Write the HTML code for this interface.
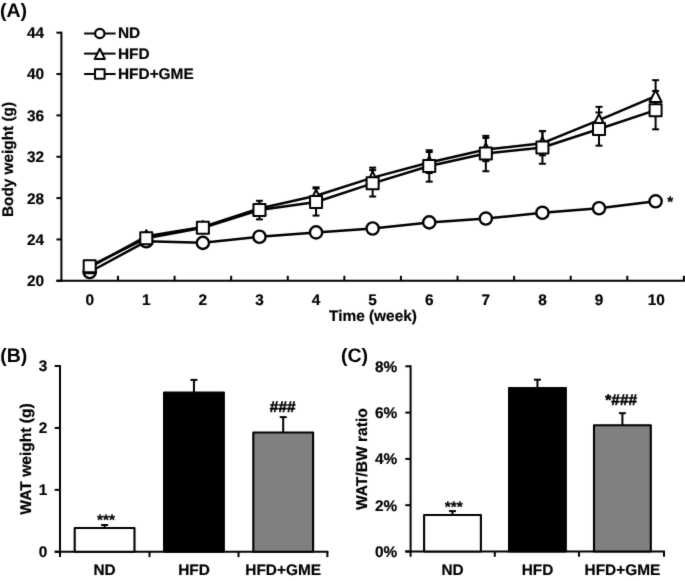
<!DOCTYPE html>
<html><head><meta charset="utf-8"><style>
html,body{margin:0;padding:0;background:#fff;width:685px;height:581px;overflow:hidden}
svg{display:block}
#w{width:685px;height:581px;will-change:transform}
text{-webkit-font-smoothing:antialiased;text-rendering:geometricPrecision}
</style></head><body><div id="w">
<svg width="685" height="581" viewBox="0 0 685 581">
<defs><filter id="bl" x="0" y="0" width="685" height="581" filterUnits="userSpaceOnUse" color-interpolation-filters="sRGB"><feConvolveMatrix order="3" kernelMatrix="0.0100 0.0800 0.0100 0.0800 0.6400 0.0800 0.0100 0.0800 0.0100" divisor="1" edgeMode="duplicate"/></filter></defs>
<rect width="685" height="581" fill="#fff"/>
<g filter="url(#bl)"><rect width="685" height="581" fill="#fff"/>
<g stroke="#000" stroke-width="2" fill="none">
<line x1="61.4" y1="31.70" x2="61.4" y2="281.80"/>
<line x1="56.40" y1="280.80" x2="61.4" y2="280.80"/>
<line x1="56.40" y1="239.45" x2="61.4" y2="239.45"/>
<line x1="56.40" y1="198.10" x2="61.4" y2="198.10"/>
<line x1="56.40" y1="156.75" x2="61.4" y2="156.75"/>
<line x1="56.40" y1="115.40" x2="61.4" y2="115.40"/>
<line x1="56.40" y1="74.05" x2="61.4" y2="74.05"/>
<line x1="56.40" y1="32.70" x2="61.4" y2="32.70"/>
<line x1="56.40" y1="280.8" x2="684.89" y2="280.8"/>
<line x1="117.99" y1="275.8" x2="117.99" y2="280.8"/>
<line x1="174.58" y1="275.8" x2="174.58" y2="280.8"/>
<line x1="231.17" y1="275.8" x2="231.17" y2="280.8"/>
<line x1="287.76" y1="275.8" x2="287.76" y2="280.8"/>
<line x1="344.35" y1="275.8" x2="344.35" y2="280.8"/>
<line x1="400.94" y1="275.8" x2="400.94" y2="280.8"/>
<line x1="457.53" y1="275.8" x2="457.53" y2="280.8"/>
<line x1="514.12" y1="275.8" x2="514.12" y2="280.8"/>
<line x1="570.71" y1="275.8" x2="570.71" y2="280.8"/>
<line x1="627.30" y1="275.8" x2="627.30" y2="280.8"/>
<line x1="683.89" y1="275.8" x2="683.89" y2="280.8"/>
</g>
<g font-family="'Liberation Sans', sans-serif" font-weight="bold" stroke="#000" stroke-width="0.2" font-size="15.4" text-anchor="end" fill="#000">
<text x="44.2" y="286.20">20</text>
<text x="44.2" y="244.85">24</text>
<text x="44.2" y="203.50">28</text>
<text x="44.2" y="162.15">32</text>
<text x="44.2" y="120.80">36</text>
<text x="44.2" y="79.45">40</text>
<text x="44.2" y="38.10">44</text>
</g>
<g font-family="'Liberation Sans', sans-serif" font-weight="bold" stroke="#000" stroke-width="0.2" font-size="15.4" text-anchor="middle" fill="#000">
<text x="89.69" y="304.5">0</text>
<text x="146.28" y="304.5">1</text>
<text x="202.88" y="304.5">2</text>
<text x="259.46" y="304.5">3</text>
<text x="316.06" y="304.5">4</text>
<text x="372.64" y="304.5">5</text>
<text x="429.24" y="304.5">6</text>
<text x="485.82" y="304.5">7</text>
<text x="542.42" y="304.5">8</text>
<text x="599.00" y="304.5">9</text>
<text x="656.20" y="304.5">10</text>
<text x="373" y="321.2">Time (week)</text>
<text transform="translate(13.4,159.5) rotate(-90)" font-size="15.35">Body weight (g)</text>
</g>
<g stroke="#000" stroke-width="2">
<line x1="316.06" y1="195.72" x2="316.06" y2="187.32"/><line x1="312.56" y1="187.32" x2="319.56" y2="187.32"/>
<line x1="316.06" y1="195.72" x2="316.06" y2="204.12"/><line x1="312.56" y1="204.12" x2="319.56" y2="204.12"/>
<line x1="372.64" y1="177.63" x2="372.64" y2="167.63"/><line x1="369.14" y1="167.63" x2="376.14" y2="167.63"/>
<line x1="372.64" y1="177.63" x2="372.64" y2="187.63"/><line x1="369.14" y1="187.63" x2="376.14" y2="187.63"/>
<line x1="429.24" y1="162.54" x2="429.24" y2="152.04"/><line x1="425.74" y1="152.04" x2="432.74" y2="152.04"/>
<line x1="429.24" y1="162.54" x2="429.24" y2="173.04"/><line x1="425.74" y1="173.04" x2="432.74" y2="173.04"/>
<line x1="485.82" y1="149.51" x2="485.82" y2="137.91"/><line x1="482.32" y1="137.91" x2="489.32" y2="137.91"/>
<line x1="485.82" y1="149.51" x2="485.82" y2="161.11"/><line x1="482.32" y1="161.11" x2="489.32" y2="161.11"/>
<line x1="542.42" y1="143.21" x2="542.42" y2="131.11"/><line x1="538.92" y1="131.11" x2="545.92" y2="131.11"/>
<line x1="542.42" y1="143.21" x2="542.42" y2="155.31"/><line x1="538.92" y1="155.31" x2="545.92" y2="155.31"/>
<line x1="599.00" y1="120.05" x2="599.00" y2="106.85"/><line x1="595.50" y1="106.85" x2="602.50" y2="106.85"/>
<line x1="599.00" y1="120.05" x2="599.00" y2="133.25"/><line x1="595.50" y1="133.25" x2="602.50" y2="133.25"/>
<line x1="655.60" y1="96.07" x2="655.60" y2="80.17"/><line x1="652.10" y1="80.17" x2="659.10" y2="80.17"/>
<line x1="655.60" y1="96.07" x2="655.60" y2="111.97"/><line x1="652.10" y1="111.97" x2="659.10" y2="111.97"/>
<line x1="259.46" y1="210.09" x2="259.46" y2="200.79"/><line x1="255.96" y1="200.79" x2="262.96" y2="200.79"/>
<line x1="259.46" y1="210.09" x2="259.46" y2="219.39"/><line x1="255.96" y1="219.39" x2="262.96" y2="219.39"/>
<line x1="316.06" y1="202.03" x2="316.06" y2="188.48"/><line x1="312.56" y1="188.48" x2="319.56" y2="188.48"/>
<line x1="316.06" y1="202.03" x2="316.06" y2="215.58"/><line x1="312.56" y1="215.58" x2="319.56" y2="215.58"/>
<line x1="372.64" y1="183.32" x2="372.64" y2="170.12"/><line x1="369.14" y1="170.12" x2="376.14" y2="170.12"/>
<line x1="372.64" y1="183.32" x2="372.64" y2="196.52"/><line x1="369.14" y1="196.52" x2="376.14" y2="196.52"/>
<line x1="429.24" y1="165.95" x2="429.24" y2="150.25"/><line x1="425.74" y1="150.25" x2="432.74" y2="150.25"/>
<line x1="429.24" y1="165.95" x2="429.24" y2="181.65"/><line x1="425.74" y1="181.65" x2="432.74" y2="181.65"/>
<line x1="485.82" y1="153.55" x2="485.82" y2="135.85"/><line x1="482.32" y1="135.85" x2="489.32" y2="135.85"/>
<line x1="485.82" y1="153.55" x2="485.82" y2="171.25"/><line x1="482.32" y1="171.25" x2="489.32" y2="171.25"/>
<line x1="542.42" y1="147.45" x2="542.42" y2="131.15"/><line x1="538.92" y1="131.15" x2="545.92" y2="131.15"/>
<line x1="542.42" y1="147.45" x2="542.42" y2="163.75"/><line x1="538.92" y1="163.75" x2="545.92" y2="163.75"/>
<line x1="599.00" y1="129.05" x2="599.00" y2="112.45"/><line x1="595.50" y1="112.45" x2="602.50" y2="112.45"/>
<line x1="599.00" y1="129.05" x2="599.00" y2="145.65"/><line x1="595.50" y1="145.65" x2="602.50" y2="145.65"/>
<line x1="655.60" y1="110.13" x2="655.60" y2="90.93"/><line x1="652.10" y1="90.93" x2="659.10" y2="90.93"/>
<line x1="655.60" y1="110.13" x2="655.60" y2="129.33"/><line x1="652.10" y1="129.33" x2="659.10" y2="129.33"/>
</g>
<polyline points="89.69,272.01 146.28,241.31 202.88,242.86 259.46,236.76 316.06,232.42 372.64,228.49 429.24,222.39 485.82,218.57 542.42,212.78 599.00,208.23 655.60,201.30" fill="none" stroke="#000" stroke-width="2.5" stroke-linejoin="round"/>
<polyline points="89.69,267.36 146.28,236.25 202.88,227.05 259.46,208.44 316.06,195.72 372.64,177.63 429.24,162.54 485.82,149.51 542.42,143.21 599.00,120.05 655.60,96.07" fill="none" stroke="#000" stroke-width="2.5" stroke-linejoin="round"/>
<polyline points="89.69,266.22 146.28,238.21 202.88,227.87 259.46,210.09 316.06,202.03 372.64,183.32 429.24,165.95 485.82,153.55 542.42,147.45 599.00,129.05 655.60,110.13" fill="none" stroke="#000" stroke-width="2.5" stroke-linejoin="round"/>
<circle cx="89.69" cy="272.01" r="6.1" fill="#fff" stroke="#000" stroke-width="2.4"/>
<circle cx="146.28" cy="241.31" r="6.1" fill="#fff" stroke="#000" stroke-width="2.4"/>
<circle cx="202.88" cy="242.86" r="6.1" fill="#fff" stroke="#000" stroke-width="2.4"/>
<circle cx="259.46" cy="236.76" r="6.1" fill="#fff" stroke="#000" stroke-width="2.4"/>
<circle cx="316.06" cy="232.42" r="6.1" fill="#fff" stroke="#000" stroke-width="2.4"/>
<circle cx="372.64" cy="228.49" r="6.1" fill="#fff" stroke="#000" stroke-width="2.4"/>
<circle cx="429.24" cy="222.39" r="6.1" fill="#fff" stroke="#000" stroke-width="2.4"/>
<circle cx="485.82" cy="218.57" r="6.1" fill="#fff" stroke="#000" stroke-width="2.4"/>
<circle cx="542.42" cy="212.78" r="6.1" fill="#fff" stroke="#000" stroke-width="2.4"/>
<circle cx="599.00" cy="208.23" r="6.1" fill="#fff" stroke="#000" stroke-width="2.4"/>
<circle cx="655.60" cy="201.30" r="6.1" fill="#fff" stroke="#000" stroke-width="2.4"/>
<path d="M89.69,261.36 L95.69,273.36 L83.69,273.36 Z" fill="#fff" stroke="#000" stroke-width="2" stroke-linejoin="round"/>
<path d="M146.28,230.25 L152.28,242.25 L140.28,242.25 Z" fill="#fff" stroke="#000" stroke-width="2" stroke-linejoin="round"/>
<path d="M202.88,221.05 L208.88,233.05 L196.88,233.05 Z" fill="#fff" stroke="#000" stroke-width="2" stroke-linejoin="round"/>
<path d="M259.46,202.44 L265.46,214.44 L253.46,214.44 Z" fill="#fff" stroke="#000" stroke-width="2" stroke-linejoin="round"/>
<path d="M316.06,189.72 L322.06,201.72 L310.06,201.72 Z" fill="#fff" stroke="#000" stroke-width="2" stroke-linejoin="round"/>
<path d="M372.64,171.63 L378.64,183.63 L366.64,183.63 Z" fill="#fff" stroke="#000" stroke-width="2" stroke-linejoin="round"/>
<path d="M429.24,156.54 L435.24,168.54 L423.24,168.54 Z" fill="#fff" stroke="#000" stroke-width="2" stroke-linejoin="round"/>
<path d="M485.82,143.51 L491.82,155.51 L479.82,155.51 Z" fill="#fff" stroke="#000" stroke-width="2" stroke-linejoin="round"/>
<path d="M542.42,137.21 L548.42,149.21 L536.42,149.21 Z" fill="#fff" stroke="#000" stroke-width="2" stroke-linejoin="round"/>
<path d="M599.00,114.05 L605.00,126.05 L593.00,126.05 Z" fill="#fff" stroke="#000" stroke-width="2" stroke-linejoin="round"/>
<path d="M655.60,90.07 L661.60,102.07 L649.60,102.07 Z" fill="#fff" stroke="#000" stroke-width="2" stroke-linejoin="round"/>
<rect x="83.69" y="260.22" width="12" height="12" fill="#fff" stroke="#000" stroke-width="2" stroke-linejoin="round"/>
<rect x="140.28" y="232.21" width="12" height="12" fill="#fff" stroke="#000" stroke-width="2" stroke-linejoin="round"/>
<rect x="196.88" y="221.87" width="12" height="12" fill="#fff" stroke="#000" stroke-width="2" stroke-linejoin="round"/>
<rect x="253.46" y="204.09" width="12" height="12" fill="#fff" stroke="#000" stroke-width="2" stroke-linejoin="round"/>
<rect x="310.06" y="196.03" width="12" height="12" fill="#fff" stroke="#000" stroke-width="2" stroke-linejoin="round"/>
<rect x="366.64" y="177.32" width="12" height="12" fill="#fff" stroke="#000" stroke-width="2" stroke-linejoin="round"/>
<rect x="423.24" y="159.95" width="12" height="12" fill="#fff" stroke="#000" stroke-width="2" stroke-linejoin="round"/>
<rect x="479.82" y="147.55" width="12" height="12" fill="#fff" stroke="#000" stroke-width="2" stroke-linejoin="round"/>
<rect x="536.42" y="141.45" width="12" height="12" fill="#fff" stroke="#000" stroke-width="2" stroke-linejoin="round"/>
<rect x="593.00" y="123.05" width="12" height="12" fill="#fff" stroke="#000" stroke-width="2" stroke-linejoin="round"/>
<rect x="649.60" y="104.13" width="12" height="12" fill="#fff" stroke="#000" stroke-width="2" stroke-linejoin="round"/>
<text font-family="'Liberation Sans', sans-serif" font-weight="bold" stroke="#000" stroke-width="0.2" font-size="15.4" x="667.3" y="206.5">*</text>
<g stroke="#000" stroke-width="2">
<line x1="84.1" y1="33.5" x2="115.6" y2="33.5"/>
<line x1="84.1" y1="53.6" x2="115.6" y2="53.6"/>
<line x1="84.1" y1="74.0" x2="115.6" y2="74.0"/>
</g>
<circle cx="99.80" cy="33.50" r="4.7" fill="#fff" stroke="#000" stroke-width="2.2"/>
<path d="M99.80,48.70 L104.90,58.90 L94.70,58.90 Z" fill="#fff" stroke="#000" stroke-width="2" stroke-linejoin="round"/>
<rect x="95.00" y="69.20" width="9.6" height="9.6" fill="#fff" stroke="#000" stroke-width="2" stroke-linejoin="round"/>
<g font-family="'Liberation Sans', sans-serif" font-weight="bold" stroke="#000" stroke-width="0.2" font-size="15.4" fill="#000">
<text x="118" y="37.90">ND</text>
<text x="118" y="58.90">HFD</text>
<text x="118" y="79.30">HFD+GME</text>
</g>
<g font-family="'Liberation Sans', sans-serif" font-weight="bold" stroke="#000" stroke-width="0.2" font-size="19.5" fill="#000" style="stroke:none">
<text x="0" y="17.2">(A)</text>
<text x="0.3" y="362.3">(B)</text>
<text x="341" y="362.4">(C)</text>
</g>
<g stroke="#000" stroke-width="2" fill="none">
<line x1="60.0" y1="365.01" x2="60.0" y2="557.10"/>
<line x1="54.70" y1="551.80" x2="60.0" y2="551.80"/>
<line x1="54.70" y1="489.87" x2="60.0" y2="489.87"/>
<line x1="54.70" y1="427.94" x2="60.0" y2="427.94"/>
<line x1="54.70" y1="366.01" x2="60.0" y2="366.01"/>
<line x1="54.70" y1="551.8" x2="328.40" y2="551.8"/>
<line x1="149.50" y1="551.8" x2="149.50" y2="557.10"/>
<line x1="238.50" y1="551.8" x2="238.50" y2="557.10"/>
<line x1="327.40" y1="551.8" x2="327.40" y2="557.10"/>
</g>
<g stroke="#000" stroke-width="2"><line x1="104.60" y1="527.95" x2="104.60" y2="525.00"/><line x1="101.10" y1="525.00" x2="108.10" y2="525.00"/></g>
<rect x="74.70" y="527.95" width="59.8" height="23.85" fill="#fff" stroke="#000" stroke-width="2.1" stroke-linejoin="round"/>
<g stroke="#000" stroke-width="2"><line x1="193.95" y1="392.45" x2="193.95" y2="379.90"/><line x1="190.45" y1="379.90" x2="197.45" y2="379.90"/></g>
<rect x="164.05" y="392.45" width="59.8" height="159.35" fill="#000" stroke="#000" stroke-width="2.1" stroke-linejoin="round"/>
<g stroke="#000" stroke-width="2"><line x1="283.20" y1="432.45" x2="283.20" y2="417.10"/><line x1="279.70" y1="417.10" x2="286.70" y2="417.10"/></g>
<rect x="253.30" y="432.45" width="59.8" height="119.35" fill="#808080" stroke="#000" stroke-width="2.1" stroke-linejoin="round"/>
<g font-family="'Liberation Sans', sans-serif" font-weight="bold" stroke="#000" stroke-width="0.2" font-size="15.4" fill="#000" text-anchor="end">
<text x="47.2" y="557.20">0</text>
<text x="47.2" y="495.27">1</text>
<text x="47.2" y="433.34">2</text>
<text x="47.2" y="371.41">3</text>
</g>
<g font-family="'Liberation Sans', sans-serif" font-weight="bold" stroke="#000" stroke-width="0.2" font-size="15.4" fill="#000" text-anchor="middle">
<text x="104.60" y="574.8">ND</text>
<text x="193.95" y="574.8">HFD</text>
<text x="283.20" y="574.8">HFD+GME</text>
<text transform="translate(30.8,458.95) rotate(-90)" font-size="15.6">WAT weight (g)</text>
<text x="105.90" y="524.6" stroke-width="0.2">***</text>
<text x="282.70" y="412.2" stroke-width="0.55">###</text>
</g>
<g stroke="#000" stroke-width="2" fill="none">
<line x1="410.6" y1="365.30" x2="410.6" y2="556.80"/>
<line x1="405.30" y1="551.50" x2="410.6" y2="551.50"/>
<line x1="405.30" y1="505.20" x2="410.6" y2="505.20"/>
<line x1="405.30" y1="458.90" x2="410.6" y2="458.90"/>
<line x1="405.30" y1="412.60" x2="410.6" y2="412.60"/>
<line x1="405.30" y1="366.30" x2="410.6" y2="366.30"/>
<line x1="405.30" y1="551.5" x2="665.00" y2="551.5"/>
<line x1="494.80" y1="551.5" x2="494.80" y2="556.80"/>
<line x1="579.00" y1="551.5" x2="579.00" y2="556.80"/>
<line x1="664.00" y1="551.5" x2="664.00" y2="556.80"/>
</g>
<g stroke="#000" stroke-width="2"><line x1="452.50" y1="515.00" x2="452.50" y2="511.10"/><line x1="449.00" y1="511.10" x2="456.00" y2="511.10"/></g>
<rect x="424.10" y="515.00" width="56.8" height="36.50" fill="#fff" stroke="#000" stroke-width="2.1" stroke-linejoin="round"/>
<g stroke="#000" stroke-width="2"><line x1="537.45" y1="388.00" x2="537.45" y2="379.70"/><line x1="533.95" y1="379.70" x2="540.95" y2="379.70"/></g>
<rect x="509.05" y="388.00" width="56.8" height="163.50" fill="#000" stroke="#000" stroke-width="2.1" stroke-linejoin="round"/>
<g stroke="#000" stroke-width="2"><line x1="622.40" y1="425.30" x2="622.40" y2="413.20"/><line x1="618.90" y1="413.20" x2="625.90" y2="413.20"/></g>
<rect x="594.00" y="425.30" width="56.8" height="126.20" fill="#808080" stroke="#000" stroke-width="2.1" stroke-linejoin="round"/>
<g font-family="'Liberation Sans', sans-serif" font-weight="bold" stroke="#000" stroke-width="0.2" font-size="15.4" fill="#000" text-anchor="end">
<text x="397.2" y="556.90">0%</text>
<text x="397.2" y="510.60">2%</text>
<text x="397.2" y="464.30">4%</text>
<text x="397.2" y="418.00">6%</text>
<text x="397.2" y="371.70">8%</text>
</g>
<g font-family="'Liberation Sans', sans-serif" font-weight="bold" stroke="#000" stroke-width="0.2" font-size="15.4" fill="#000" text-anchor="middle">
<text x="452.50" y="574.8">ND</text>
<text x="537.45" y="574.8">HFD</text>
<text x="622.40" y="574.8">HFD+GME</text>
<text transform="translate(367.4,459.15) rotate(-90)" font-size="15.6">WAT/BW ratio</text>
<text x="453.70" y="512.0" stroke-width="0.2">***</text>
<text x="621.20" y="405.0" stroke-width="0.55">*###</text>
</g>
</g>
</svg>
</div></body></html>
